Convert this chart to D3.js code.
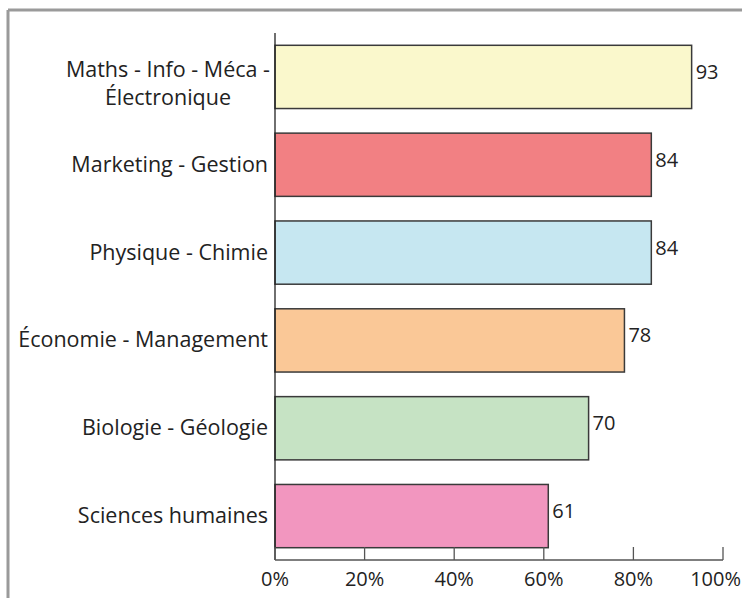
<!DOCTYPE html>
<html><head><meta charset="utf-8">
<script src="https://cdn.jsdelivr.net/npm/d3@7"></script>
<style>body{margin:0;background:#fff}svg{display:block}text{font-family:"Open Sans",sans-serif;fill:#222}</style>
</head><body><svg id="c" width="742" height="598"></svg>
<script>
const categories = [["Maths - Info - Méca -","Électronique"],["Marketing - Gestion"],["Physique - Chimie"],["Économie - Management"],["Biologie - Géologie"],["Sciences humaines"]];
const values = [93,84,84,78,70,61];
const colors = ["#FAF8CC","#F28083","#C6E7F1","#FAC897","#C6E3C4","#F296BF"];
const tickValues = [0,20,40,60,80,100];

const svg = d3.select("#c");
// frame
svg.append("line").attr("x1",8).attr("x2",742).attr("y1",10).attr("y2",10).attr("stroke","#9a9a9a").attr("stroke-width",3);
svg.append("line").attr("x1",8).attr("x2",8).attr("y1",10).attr("y2",598).attr("stroke","#9a9a9a").attr("stroke-width",3);

const x = d3.scaleLinear().domain([0,100]).range([275,723]);
const idx = d3.range(values.length);
const y = d3.scaleBand().domain(idx).range([33,560]).paddingInner(0.28).paddingOuter(0.14);

svg.selectAll("rect.bar").data(idx).join("rect").attr("class","bar")
  .attr("x",x(0)).attr("y",i=>y(i)).attr("width",i=>x(values[i])-x(0)).attr("height",y.bandwidth())
  .attr("fill",i=>colors[i]).attr("stroke","#3a3a3a").attr("stroke-width",1.5);

// axes
const ax = svg.append("g");
ax.append("line").attr("x1",x(0)).attr("x2",x(0)).attr("y1",33).attr("y2",560).attr("stroke","#222").attr("stroke-width",1.3);
ax.append("line").attr("x1",x(0)).attr("x2",x(100)).attr("y1",560).attr("y2",560).attr("stroke","#555").attr("stroke-width",1.3);
ax.selectAll("line.tick").data(tickValues).join("line").attr("class","tick")
  .attr("x1",d=>x(d)).attr("x2",d=>x(d)).attr("y1",547).attr("y2",560).attr("stroke","#555").attr("stroke-width",1.3);
ax.selectAll("text.tl").data(tickValues).join("text").attr("class","tl")
  .attr("x",d=>d===100?741:x(d)).attr("y",586).attr("text-anchor",d=>d===100?"end":"middle").attr("font-size",20).text(d=>d+"%");

// category labels
idx.forEach(i=>{
  const lines = categories[i];
  const cy = y(i)+y.bandwidth()/2;
  if(lines.length===1){
    svg.append("text").attr("x",268).attr("y",cy+7).attr("text-anchor","end").attr("font-size",21.5).text(lines[0]);
  } else {
    const t1 = svg.append("text").attr("x",270).attr("y",cy).attr("text-anchor","end").attr("font-size",21.5).text(lines[0]);
    const w = t1.node().getComputedTextLength();
    svg.append("text").attr("x",270-w/2).attr("y",cy+28).attr("text-anchor","middle").attr("font-size",21.5).text(lines[1]);
  }
});

// value labels
svg.selectAll("text.val").data(idx).join("text").attr("class","val")
  .attr("x",i=>x(values[i])+4).attr("y",i=>y(i)+y.bandwidth()/2+2).attr("font-size",20).text(i=>values[i]);
</script></body></html>
